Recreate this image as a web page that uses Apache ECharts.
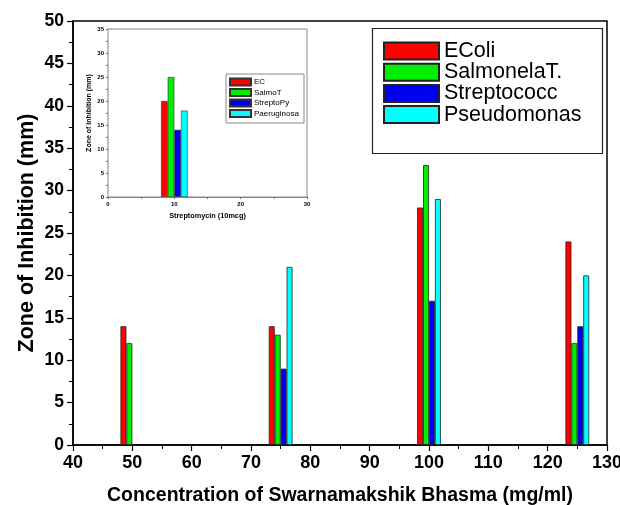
<!DOCTYPE html>
<html>
<head>
<meta charset="utf-8">
<script src="https://cdn.jsdelivr.net/npm/echarts@6/dist/echarts.min.js"></script>
<style>
  html, body { margin: 0; padding: 0; background: #fff; }
  #main { width: 620px; height: 505px; }
</style>
</head>
<body>
<div id="main"></div>
<script>
// main chart: concentration of bhasma vs zone of inhibition
const concentrations = [50, 75, 100, 125];
const ecoli = [14, 14, 28, 24];
const salmonella = [12, 13, 33, 12];
const streptococc = [null, 9, 17, 14];
const pseudomonas = [null, 21, 29, 20];
const mainNames = ['EColi', 'SalmonelaT.', 'Streptococc', 'Pseudomonas'];

// inset: streptomycin control
const insetDose = [10];
const insetEC = [20];
const insetSalmo = [25];
const insetStrepto = [14];
const insetPaer = [18];
const insetNames = ['EC', 'SalmoT', 'StreptoPy', 'Paeruginosa'];

const colors = ['#ff0000', '#00ee00', '#0000ee', '#00ffff'];
const font = 'Arial, "Liberation Sans", sans-serif';

var chartDom = document.getElementById('main');
var myChart = echarts.init(chartDom);

function pairs(xs, ys) {
  return xs.map(function (x, i) { return [x, ys[i]]; });
}

var mainSets = [ecoli, salmonella, streptococc, pseudomonas];
var insetSets = [insetEC, insetSalmo, insetStrepto, insetPaer];

var series = [];
mainSets.forEach(function (vals, i) {
  series.push({
    name: mainNames[i],
    type: 'bar',
    xAxisIndex: 0,
    yAxisIndex: 0,
    barWidth: 5.93,
    barGap: '0%',
    data: pairs(concentrations, vals),
    itemStyle: { color: colors[i], borderColor: '#222', borderWidth: 0.8 }
  });
});
insetSets.forEach(function (vals, i) {
  series.push({
    name: insetNames[i],
    type: 'bar',
    xAxisIndex: 1,
    yAxisIndex: 1,
    barWidth: 6.63,
    barGap: '0%',
    z: 5,
    data: pairs(insetDose, vals),
    itemStyle: { color: colors[i], borderColor: '#333', borderWidth: 0.6 }
  });
});

var option = {
  animation: false,
  textStyle: { fontFamily: font },
  grid: [
    {
      left: 73, top: 21, right: 13, bottom: 60,
      outerBoundsMode: 'none',
      show: true, borderColor: '#000', borderWidth: 1.5, backgroundColor: '#fff'
    },
    {
      left: 108, top: 29, width: 199, height: 168,
      outerBoundsMode: 'none',
      show: true, borderColor: '#888', borderWidth: 1, backgroundColor: '#fff', z: 3
    }
  ],
  legend: [
    {
      data: mainNames,
      orient: 'vertical',
      left: 383, top: 40,
      padding: 0,
      itemWidth: 55, itemHeight: 17, itemGap: -0.8,
      icon: 'rect',
      textStyle: { fontSize: 21.5, color: '#000', fontFamily: font }
    },
    {
      data: insetNames,
      orient: 'vertical',
      left: 229, top: 77.5,
      padding: 0,
      itemWidth: 21, itemHeight: 7, itemGap: 1.5,
      icon: 'rect',
      z: 10,
      textStyle: { fontSize: 8, color: '#000', fontFamily: font, padding: [0, 0, 0, -2] }
    }
  ],
  graphic: [
    { type: 'rect', z: 20, shape: { x: 372.5, y: 28.5, width: 230, height: 125 },
      style: { fill: null, stroke: '#222', lineWidth: 1.2 } },
    { type: 'rect', z: 20, shape: { x: 226, y: 74, width: 78, height: 49 },
      style: { fill: null, stroke: '#888', lineWidth: 1 } }
  ],
  xAxis: [
    {
      type: 'value', gridIndex: 0, min: 40, max: 130, interval: 10,
      name: 'Concentration of Swarnamakshik Bhasma (mg/ml)',
      nameLocation: 'middle', nameGap: 41, nameMoveOverlap: false,
      nameTextStyle: { fontSize: 19.5, fontWeight: 'bold', color: '#000' },
      axisLine: { lineStyle: { color: '#000', width: 1.5 } },
      axisTick: { inside: false, length: 6, lineStyle: { color: '#000', width: 1.2 } },
      minorTick: { show: true, splitNumber: 2, length: 4, lineStyle: { color: '#000', width: 1 } },
      axisLabel: { fontSize: 18, fontWeight: 'bold', color: '#000', margin: 9 },
      splitLine: { show: false }
    },
    {
      type: 'value', gridIndex: 1, min: 0, max: 30, interval: 10,
      name: 'Streptomycin (10mcg)',
      nameLocation: 'middle', nameGap: 15,
      nameTextStyle: { fontSize: 7.3, fontWeight: 'bold', color: '#000' },
      axisLine: { lineStyle: { color: '#888', width: 1 } },
      axisTick: { length: 2, lineStyle: { color: '#666' } },
      minorTick: { show: true, splitNumber: 2, length: 2, lineStyle: { color: '#666' } },
      axisLabel: { fontSize: 6, fontWeight: 'bold', color: '#000', margin: 4 },
      splitLine: { show: false }
    }
  ],
  yAxis: [
    {
      type: 'value', gridIndex: 0, min: 0, max: 50, interval: 5,
      name: 'Zone of Inhibition (mm)',
      nameLocation: 'middle', nameGap: 35, nameMoveOverlap: false,
      nameTextStyle: { fontSize: 21.5, fontWeight: 'bold', color: '#000' },
      axisLine: { show: true, lineStyle: { color: '#000', width: 1.5 } },
      axisTick: { show: true, length: 6, lineStyle: { color: '#000', width: 1.2 } },
      minorTick: { show: true, splitNumber: 2, length: 4, lineStyle: { color: '#000', width: 1 } },
      axisLabel: { fontSize: 17.5, fontWeight: 'bold', color: '#000', margin: 9 },
      splitLine: { show: false }
    },
    {
      type: 'value', gridIndex: 1, min: 0, max: 35, interval: 5,
      name: 'Zone of Inhibition (mm)',
      nameLocation: 'middle', nameGap: 15,
      nameTextStyle: { fontSize: 7, fontWeight: 'bold', color: '#000' },
      axisLine: { show: true, lineStyle: { color: '#888', width: 1 } },
      axisTick: { show: true, length: 2, lineStyle: { color: '#666' } },
      minorTick: { show: true, splitNumber: 2, length: 2, lineStyle: { color: '#666' } },
      axisLabel: { fontSize: 6, fontWeight: 'bold', color: '#000', margin: 4 },
      splitLine: { show: false }
    }
  ],
  series: series
};

option && myChart.setOption(option);
</script>
</body>
</html>
